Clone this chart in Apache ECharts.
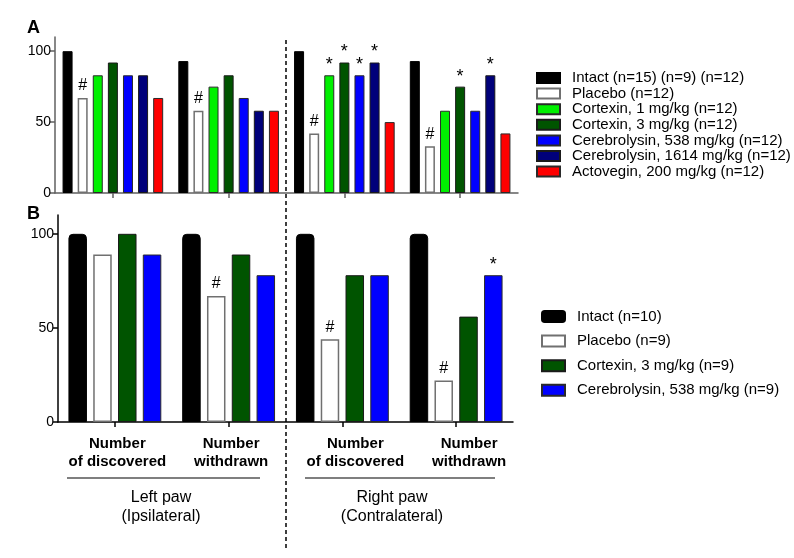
<!DOCTYPE html>
<html>
<head>
<meta charset="utf-8">
<script src="https://cdn.jsdelivr.net/npm/echarts@6/dist/echarts.min.js"></script>
<style>html,body{margin:0;padding:0;background:#fff}#c{width:794px;height:558px}</style>
</head>
<body>
<div id="c"></div>
<script>
// ---- categories ----
const categories = ['Number\nof discovered', 'Number\nwithdrawn', 'Number\nof discovered', 'Number\nwithdrawn'];
const yTicks = [0, 50, 100];

// ---- Panel A series (%) ----
const namesA = ['Intact (n=15) (n=9) (n=12)', 'Placebo (n=12)', 'Cortexin, 1 mg/kg (n=12)', 'Cortexin, 3 mg/kg (n=12)',
  'Cerebrolysin, 538 mg/kg (n=12)', 'Cerebrolysin, 1614 mg/kg (n=12)', 'Actovegin, 200 mg/kg (n=12)'];
const intactA     = [100, 93, 100, 93];
const placeboA    = [67, 58, 42, 33];
const cortexin1A  = [83, 75, 83, 58];
const cortexin3A  = [92, 83, 92, 75];
const cereb538A   = [83, 67, 83, 58];
const cereb1614A  = [83, 58, 92, 83];
const actoveginA  = [67, 58, 50, 42];
// significance marks
const intactMarksA     = ['', '', '', ''];
const placeboMarksA    = ['#', '#', '#', '#'];
const cortexin1MarksA  = ['', '', '*', ''];
const cortexin3MarksA  = ['', '', '*', '*'];
const cereb538MarksA   = ['', '', '*', ''];
const cereb1614MarksA  = ['', '', '*', '*'];
const actoveginMarksA  = ['', '', '', ''];

// ---- Panel B series (%) ----
const namesB = ['Intact (n=10)', 'Placebo (n=9)', 'Cortexin, 3 mg/kg (n=9)', 'Cerebrolysin, 538 mg/kg (n=9)'];
const intactB    = [100, 100, 100, 100];
const placeboB   = [89, 67, 44, 22];
const cortexin3B = [100, 89, 78, 56];
const cereb538B  = [89, 78, 78, 78];
const intactMarksB    = ['', '', '', ''];
const placeboMarksB   = ['', '#', '#', '#'];
const cortexin3MarksB = ['', '', '', ''];
const cereb538MarksB  = ['', '', '', '*'];

const FONT = 'Liberation Sans, Arial, sans-serif';
const colorsA = ['#000000', '#ffffff', '#00f000', '#005400', '#0000ff', '#00007a', '#ff0000'];
const bordersA = ['#000000', '#707070', '#2a2a2a', '#1a1a1a', '#2a2a2a', '#1a1a1a', '#2a2a2a'];
const colorsB = ['#000000', '#ffffff', '#005400', '#0000ff'];
const bordersB = ['#000000', '#707070', '#1a1a1a', '#2a2a2a'];

function mk(values, marks) {
  return values.map((v, i) => marks[i] ? {
    value: v,
    label: { show: true, formatter: marks[i], position: 'top',
      distance: marks[i] === '#' ? 4 : 1,
      fontSize: marks[i] === '#' ? 16 : 18, color: '#000', fontFamily: FONT }
  } : v);
}

const dataA = [[intactA, intactMarksA], [placeboA, placeboMarksA], [cortexin1A, cortexin1MarksA], [cortexin3A, cortexin3MarksA],
  [cereb538A, cereb538MarksA], [cereb1614A, cereb1614MarksA], [actoveginA, actoveginMarksA]];
const dataB = [[intactB, intactMarksB], [placeboB, placeboMarksB], [cortexin3B, cortexin3MarksB], [cereb538B, cereb538MarksB]];

const series = [];
dataA.forEach((d, i) => series.push({
  type: 'bar', name: namesA[i], xAxisIndex: 0, yAxisIndex: 0,
  data: mk(d[0], d[1]), barWidth: 10, barGap: '51%',
  itemStyle: { color: colorsA[i], borderColor: bordersA[i], borderWidth: i === 1 ? 1.5 : 1 },
  emphasis: { disabled: true }, animation: false
}));
dataB.forEach((d, i) => series.push({
  type: 'bar', name: namesB[i], xAxisIndex: 1, yAxisIndex: 1,
  data: mk(d[0], d[1]), barWidth: 18.5, barGap: '34%',
  itemStyle: { color: colorsB[i], borderColor: bordersB[i], borderWidth: i === 1 ? 1.5 : 1,
    borderRadius: i === 0 ? [4, 4, 0, 0] : 0 },
  emphasis: { disabled: true }, animation: false
}));

function yAxis(gi, color) {
  return {
    type: 'value', gridIndex: gi, min: 0, max: 110, interval: 50,
    axisLine: { show: true, lineStyle: { color: color, width: 1.5 } },
    axisTick: { show: true, length: 5, customValues: yTicks, lineStyle: { color: color, width: 1.5 } },
    axisLabel: { customValues: yTicks, fontSize: 14, color: '#000', fontFamily: FONT, margin: 4 },
    splitLine: { show: false }
  };
}
function xAxis(gi, color, showLabel) {
  return {
    type: 'category', gridIndex: gi,
    data: categories.map((c, i) => ({ value: c,
      textStyle: { padding: i >= 2 ? [0, 0, 0, 26] : [0, 0, 0, 5] } })),
    axisLine: { show: true, lineStyle: { color: color, width: 1.5 } },
    axisTick: { show: true, alignWithLabel: true, length: 5, lineStyle: { color: color, width: 1.5 } },
    axisLabel: { show: showLabel, fontSize: 15, fontWeight: 'bold', color: '#000', fontFamily: FONT,
      lineHeight: 18, margin: 13, interval: 0 }
  };
}

const legendText = { fontSize: 15, color: '#000', fontFamily: FONT, lineHeight: 15, padding: [0, 0, 0, 7] };

const option = {
  backgroundColor: '#ffffff',
  animation: false,
  grid: [
    { left: 55, top: 37, width: 463, height: 156 },
    { left: 58, top: 215, width: 455, height: 207 }
  ],
  xAxis: [xAxis(0, '#606060', false), xAxis(1, '#000000', true)],
  yAxis: [yAxis(0, '#606060'), yAxis(1, '#000000')],
  legend: [
    { orient: 'vertical', left: 536, top: 70.5, padding: 0, itemWidth: 23, itemHeight: 10, itemGap: 0.6,
      icon: 'rect', data: namesA, textStyle: legendText, selectedMode: false },
    { orient: 'vertical', left: 541, top: 309, padding: 0, itemWidth: 23, itemHeight: 11, itemGap: 9.6,
      data: namesB.map((n, i) => ({ name: n, icon: i === 0 ? 'roundRect' : 'rect' })),
      textStyle: Object.assign({}, legendText, { padding: [0, 0, 0, 7] }), selectedMode: false }
  ],
  series: series,
  graphic: [
    { type: 'text', left: 27, top: 19, style: { text: 'A', fontSize: 18, fontWeight: 'bold', fill: '#000', fontFamily: FONT } },
    { type: 'text', left: 27, top: 205, style: { text: 'B', fontSize: 18, fontWeight: 'bold', fill: '#000', fontFamily: FONT } },
    { type: 'line', shape: { x1: 286, y1: 40, x2: 286, y2: 548 }, style: { stroke: '#000', lineWidth: 1.5, lineDash: [4, 3] } },
    { type: 'line', shape: { x1: 67, y1: 478, x2: 260, y2: 478 }, style: { stroke: '#555', lineWidth: 1.5 } },
    { type: 'line', shape: { x1: 305, y1: 478, x2: 495, y2: 478 }, style: { stroke: '#555', lineWidth: 1.5 } },
    { type: 'text', x: 161, y: 507, style: { text: 'Left paw\n(Ipsilateral)', fontSize: 16, lineHeight: 19.5,
      align: 'center', verticalAlign: 'middle', fill: '#000', fontFamily: FONT } },
    { type: 'text', x: 392, y: 507, style: { text: 'Right paw\n(Contralateral)', fontSize: 16, lineHeight: 19.5,
      align: 'center', verticalAlign: 'middle', fill: '#000', fontFamily: FONT } }
  ]
};

const chart = echarts.init(document.getElementById('c'), null, { renderer: 'canvas' });
chart.setOption(option);
</script>
</body>
</html>
